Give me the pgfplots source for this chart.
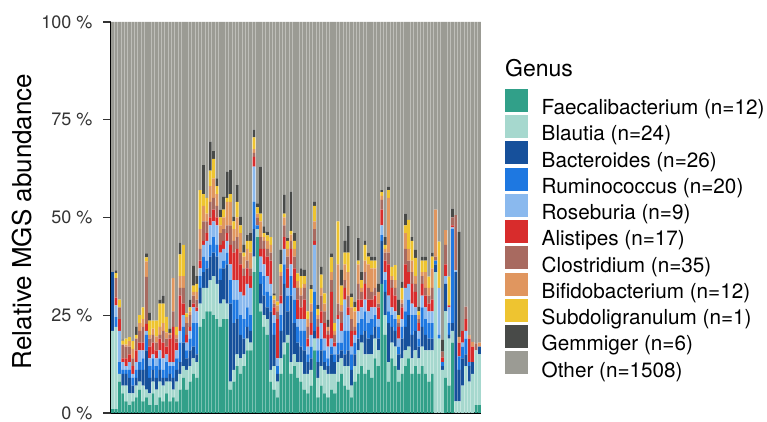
\documentclass[border=0pt]{standalone}
\usepackage{fontspec}
\setmainfont{TeX Gyre Heros}
\usepackage{pgfplots}
\usepackage{pgfplotstable}
\pgfplotsset{compat=1.18}

% Genus palette
\definecolor{cFae}{RGB}{49,160,137}
\definecolor{cBla}{RGB}{166,216,206}
\definecolor{cBac}{RGB}{22,80,155}
\definecolor{cRum}{RGB}{30,120,225}
\definecolor{cRos}{RGB}{138,185,238}
\definecolor{cAli}{RGB}{216,44,44}
\definecolor{cClo}{RGB}{168,106,96}
\definecolor{cBif}{RGB}{224,150,95}
\definecolor{cSub}{RGB}{238,196,48}
\definecolor{cGem}{RGB}{72,74,72}
\definecolor{cOth}{RGB}{155,155,148}

% relative abundance (%) per sample; Other = remainder to 100
\pgfplotstableread{
i F B Bc R Ro A C Bi S G
1 1 20 15 0 0 0 0 0 0 0
2 1 21 0 2.5 3 2 5 0 1.3 0.7
3 8 2 0 3 8 3 3 0 2 0
4 5 2 3 1 2 1 3.5 0 1 0.2
5 3 4 3 1 1 2 3 0.5 1.5 0
6 2 3 4 2 2 2 2 1.4 1 0
7 3 2 2 2 1 2 2 2.4 2 0
8 4 3 2 2 2 3 3 0 1 2
9 6 2 3 2 3 2 3 2 2 0
10 3 4 4 3 2 2 4 2 3 0
11 4 2 10 4 1 1.8 12 4 1 1
12 2 3 4 3 2 3 2 1 3.6 2
13 5 3 3 3 1 3 2 1.6 2 0
14 2 4 3 3 2 2 2 1.6 4 0
15 4 4 3 3 2 3 1 2 6 1
16 3 4 2 2 3 4 3 2 5 2
17 5 3 1 4 2 2 2 1.6 4 0
18 3 5 2 2 1 6 1 0.5 0 1
19 4 2 3 3 1 9 4 8.5 0 0
20 3 5 3 3 2 2 1 1 2 0
21 6 4 3 5 3 9 2 3 5.6 3
22 9 3 6 4 3 3 4 3 8 0
23 6 5 3 2 2 2 3 1.5 1 0
24 8 4 4 3 2 1 3 1 1 2
25 10 4 3 6 4 1 2 1 1.6 5
26 9 4 2 8 3 1 2 2 2 2
27 22 6 4 3 2 2 3 5 10 0
28 24 8 4 4 3 1 5 4 3 7.4
29 26 6 5 2 5 2 3 2 4 0
30 26 8 6 3 5 2 4 4 4 7.4
31 25 10 6 4 4 3 3 5 5 2
32 24 9 7 3 5 2 3 3 2 2
33 22 6 6 3 4 2 3 2 2 2
34 24 5 8 2 3 2 3 3 2 3.3
35 24 4 10 3 3 2 2 6 1 6.7
36 6 2 20 6 4 5 5 6 2 6.1
37 8 3 12 6 5 7 3 3 2 1.2
38 12 3 9 5 5 8 3 5 4 4.3
39 10 4 6 5 6 7 3 5 2 2.2
40 12 3 4 5 6 5 2 3 1 2
41 16 3 3 5 6 4 2 3 2 1.5
42 16 2 3 4 7 3 2 4 3 2
43 36 4 7 7 9 2.5 1 1 3 2
44 45 2 0 1 0 0 2 1 1.6 1
45 26 2 5 3 4 2 3 4 2 12
46 22 3 5 5 3 4 2 1 1 1.7
47 20 4 3 4 4 5 2 2 1.4 1
48 8 3 15 4 3 6 2 2 2 0
49 6 6 8 3 2 2 1 1 1 0.6
50 4 4 2 2 2 10 2 1.5 1 0
51 10 4 7 4 3 2 5 1 2 3.7
52 15 3 15 5 4 3 3 2 1 4.8
53 18 2 6 4 2 5 3 2 2 0.7
54 10 3 17 5 3 4 2 1.6 1 10
55 12 3 8 6 3 5 3 2 2 2
56 9 4 5 4 2 5 3 1.7 2 0
57 8 5 4 4 3 3 3 2 3 2
58 6 4 6 5 3 5 3 1 2 1.6
59 5 5 3 2 2 2 3 2 2 0
60 7 4 3 3 3 3 3 2 3.7 1
61 16 3 2 10 12 1 3 2 4 1
62 4 5 4 3 3 3 2 1 1.6 1
63 7 5 4 3 4 3 4 2 3.4 2
64 5 6 2 3 3 4 3 2 2.6 0
65 4 6 2 2 3 3 1 1 0 1.8
66 6 4 5 2 2 12 3 2 3.8 1
67 5 5 3 2 2 1 2 1 2 0
68 8 5 2 3 6 1 3 10 11 0
69 10 4 2 2 3 2 3 1.6 5 4
70 7 5 3 6 8 3 2 4 3 3
71 6 6 4 5 4 2 3 6 5 6.8
72 4 3 4 4 2 4 3 3 2.6 1
73 8 4 3 3 2 1 1 4 1 1.5
74 10 6 3 4 3 3 4 5 1 5.7
75 12 6 2 4 3 2 2 1 2 2
76 10 5 6 5 3 4 3 3 4 1
77 11 4 4 4 3 3 3 6 2 1
78 9 6 5 4 3 2 2 6 2 1
79 14 5 3 3 2 3 2 5 2 1
80 12 4 3 3 2 3 1 3 0 2
81 33 0 11 1.5 2.5 4 2.5 1 1 0.5
82 20 5 6 3 2 3 2 1 1 2
83 8 5 10 3 4 8 3 14 2 0.9
84 14 4 4 3 2 5 2 1 2.4 0
85 12 5 4 3 2 4 2 2 3.8 0
86 8 3 4 2 2 3 1 1 1 3.9
87 10 4 5 3 2 3 1 1 3 1.6
88 12 4 6 4 6 6 4 4 2 3
89 14 3 8 4 4 3 3 3 7.4 0
90 10 4 6 5 3 5 3 3 5 1
91 12 4 5 4 2 4 2 2 4.7 2
92 10 4 3 2 2 2 1 1 1 1.2
93 12 5 5 5 3 3 2 1 3 1
94 10 6 4 4 3 3 2 4 3 1
95 8 8 3 4 3 2 2 2 2.9 0
96 10 6 3 4 3 3 3 5 3 1
97 0 36 2 1 0 0 1 12 0 0
98 0 19 0 1 12 0 0 0 11.8 0
99 0 11 1 1 0 1.2 1.5 0 0 3
100 9 17 7 0 2 3 5 3.8 0 0
101 7 12 1 3 4 0.5 0 0 7.4 0
102 18 3 2 24 0.5 0.5 2 0 0 2.3
103 0 3 33 0 0.5 0 14.1 0 0 0
104 0 3 8 3.5 0 3.5 0 1.5 0 26.9
105 0 7 7 3 1 3 0 0 0 0
106 0 12 3 4 2 3 3.2 0 0 0
107 0 8 4 1 0 6 0 1 0 0
108 0 10 3 0 0 4 0 1.2 0 0
109 2 14 0 0 0 0 1.8 0 0 0
110 2 13 2 0 0 0 0 1 0 0
}\genus

\pgfplotsset{
  sq legend/.style={legend image code/.code={
    \fill[##1] (0bp,-4.1bp) rectangle (23bp,18.9bp);
    \path (36.7bp,0bp);}},
  genus bar/.style={fill=#1, draw=none, sq legend},
}

\begin{document}
\begin{tikzpicture}
\path[use as bounding box] (0,0) rectangle (767bp,422bp);
\begin{axis}[
  at={(111bp,9bp)}, anchor=south west,
  scale only axis, width=370bp, height=391bp,
  ybar stacked, bar width=0.86,
  xmin=0.5, xmax=110.5, ymin=0, ymax=100,
  enlargelimits=false,
  axis x line=bottom, axis y line=left,
  axis line style={-, line width=1.3bp, black},
  xtick=\empty,
  ytick={0,25,50,75,100},
  yticklabels={0 \%,25 \%,50 \%,75 \%,100 \%},
  yticklabel style={font=\fontsize{18bp}{18bp}\selectfont, text=black!80, xshift=-7bp},
  tick style={line width=1.1bp, black!80},
  major tick length=8bp,
  tick align=outside,
  ylabel={Relative MGS abundance},
  ylabel style={font=\fontsize{26bp}{26bp}\selectfont, at={(axis description cs:-0.2416,0.49)}, anchor=center},
  legend cell align=left,
  legend style={
    at={(axis description cs:1.0649,0.8287)}, anchor=north west,
    draw=none, fill=none, inner sep=0pt, outer sep=0pt,
    row sep=-1bp,
    font=\fontsize{20.7bp}{20.7bp}\selectfont,
    nodes={inner sep=0pt, outer sep=0pt},
  },
]
\addplot[genus bar=cFae] table[x=i, y=F] {\genus};
\addlegendentry{Faecalibacterium (n=12)}
\addplot[genus bar=cBla] table[x=i, y=B] {\genus};
\addlegendentry{Blautia (n=24)}
\addplot[genus bar=cBac] table[x=i, y=Bc] {\genus};
\addlegendentry{Bacteroides (n=26)}
\addplot[genus bar=cRum] table[x=i, y=R] {\genus};
\addlegendentry{Ruminococcus (n=20)}
\addplot[genus bar=cRos] table[x=i, y=Ro] {\genus};
\addlegendentry{Roseburia (n=9)}
\addplot[genus bar=cAli] table[x=i, y=A] {\genus};
\addlegendentry{Alistipes (n=17)}
\addplot[genus bar=cClo] table[x=i, y=C] {\genus};
\addlegendentry{Clostridium (n=35)}
\addplot[genus bar=cBif] table[x=i, y=Bi] {\genus};
\addlegendentry{Bifidobacterium (n=12)}
\addplot[genus bar=cSub] table[x=i, y=S] {\genus};
\addlegendentry{Subdoligranulum (n=1)}
\addplot[genus bar=cGem] table[x=i, y=G] {\genus};
\addlegendentry{Gemmiger (n=6)}
\addplot[genus bar=cOth] table[x=i, y expr={100-\thisrow{F}-\thisrow{B}-\thisrow{Bc}-\thisrow{R}-\thisrow{Ro}-\thisrow{A}-\thisrow{C}-\thisrow{Bi}-\thisrow{S}-\thisrow{G}}] {\genus};
\addlegendentry{Other (n=1508)}
\end{axis}
\node[anchor=base west, inner sep=0pt, font=\fontsize{23bp}{23bp}\selectfont] at (505bp,345.3bp) {Genus};
\end{tikzpicture}
\end{document}
